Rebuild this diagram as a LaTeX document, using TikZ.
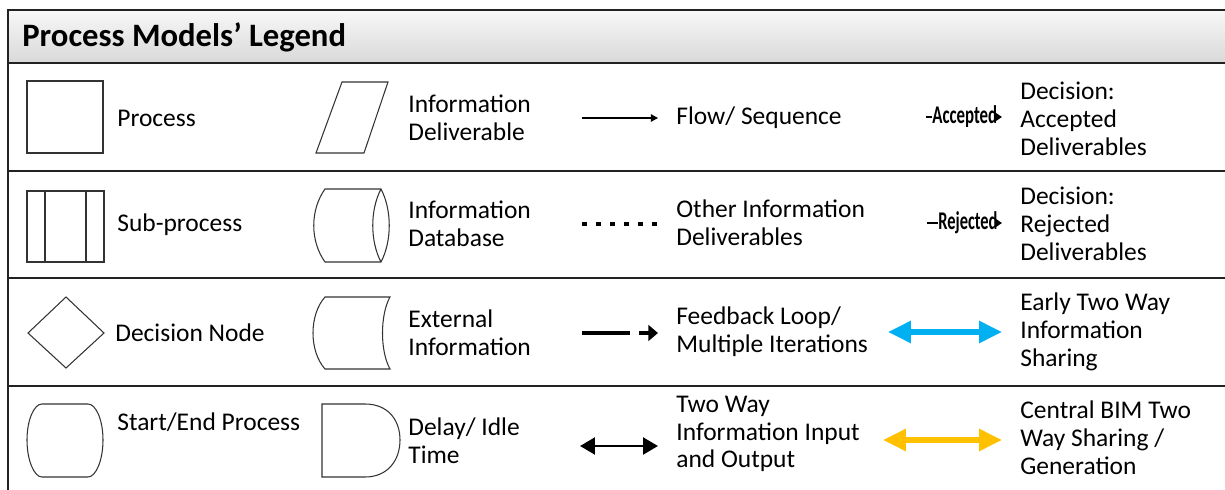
\documentclass[tikz,border=0pt]{standalone}
\usepackage{fontspec}
\setmainfont{Carlito}
\usetikzlibrary{arrows.meta}
\definecolor{frameline}{HTML}{222222}
\definecolor{shapeline}{HTML}{333333}
\definecolor{lblue}{HTML}{00B0F0}
\definecolor{lgold}{HTML}{FFC000}
\begin{document}
\begin{tikzpicture}[x=0.02cm,y=-0.02cm,
  frame/.style={line width=1.1pt,draw=frameline},
  shp/.style={line width=0.6pt,draw=shapeline},
  lbl/.style={anchor=west,align=left,inner sep=0pt,font=\fontsize{14.5}{15.8}\selectfont},
  dlbl/.style={inner sep=0pt,font=\fontsize{14.5}{16}\selectfont\bfseries},
  twoway/.style={{Triangle[length=8.5pt,width=9.5pt]}-{Triangle[length=8.5pt,width=9.5pt]},line width=1.7pt},
  bigtwoway/.style={{Triangle[length=13pt,width=12pt]}-{Triangle[length=13pt,width=12pt]},line width=2.9pt}
]
\useasboundingbox (0,0) rectangle (1225,490);
% header
\shade[top color=black!3,bottom color=black!15] (8,10) rectangle (1225,63);
\node[anchor=west,inner sep=0pt,font=\fontsize{18.6}{20}\selectfont\bfseries] (title) at (22,37) {Process Models’ Legend};
% frame
\draw[frame] (8,490) -- (8,10) -- (1225,10);
\foreach \yy in {63,171,278,386} \draw[frame] (8,\yy) -- (1225,\yy);

% column 1 shapes
\draw[shp] (27,81) rectangle (103,153);
\draw[shp] (27,191) rectangle (104,262);
\draw[shp] (45,191) -- (45,262);
\draw[shp] (86,191) -- (86,262);
\draw[shp] (28,333) -- (66,297) -- (104,333) -- (66,368) -- cycle;
\draw[shp] (42,404) -- (88,404) .. controls (96,404) and (103,420) .. (103,440)
  .. controls (103,460) and (96,477) .. (88,477) -- (42,477)
  .. controls (34,477) and (27,460) .. (27,440) .. controls (27,420) and (34,404) .. (42,404) -- cycle;

\node[lbl] (process) at (117,118) {Process};
\node[lbl] (subprocess) at (117,225) {Sub-process};
\node[lbl] (decision) at (115,333) {Decision Node};
\node[lbl] (startend) at (117,422) {Start/End Process};

% column 2 shapes
\draw[shp] (316,153) -- (342,82) -- (388,82) -- (364,153) -- cycle;
\draw[shp] (325,189) -- (381,189) .. controls (392,210) and (392,241) .. (381,262)
  -- (325,262) .. controls (310,241) and (310,210) .. (325,189) -- cycle;
\draw[shp] (381,189) .. controls (370,210) and (370,241) .. (381,262);
\draw[shp] (325,297) -- (390,297) .. controls (380,315) and (380,351) .. (390,369)
  -- (325,369) .. controls (309,351) and (309,315) .. (325,297) -- cycle;
\draw[shp] (322,404) -- (365,404) .. controls (388,404) and (400,420) .. (400,440)
  .. controls (400,460) and (388,477) .. (365,477) -- (322,477) -- cycle;

\node[lbl] (infodel) at (408,118) {Information\\Deliverable};
\node[lbl] (infodb) at (408,224) {Information\\Database};
\node[lbl] (extinfo) at (408,333) {External\\Information};
\node[lbl] (delay) at (408,441) {Delay/ Idle\\Time};

% column 3 connectors
\coordinate (f1) at (582,118); \coordinate (f2) at (658,118);
\draw[line width=0.7pt,-{Triangle[length=4pt,width=4.2pt]}] (f1) -- (f2);
\coordinate (d1) at (582,224); \coordinate (d2) at (658,224);
\draw[line width=0.09cm,dash pattern=on 0.09cm off 0.192cm] (d1) -- (d2);
\coordinate (k1) at (582,333); \coordinate (k2) at (630,333);
\coordinate (k3) at (639,333); \coordinate (k4) at (658,333);
\draw[line width=2.6pt] (k1) -- (k2);
\draw[line width=2.6pt,-{Triangle[length=5.5pt,width=9pt]}] (k3) -- (k4);
\coordinate (t1) at (580,446); \coordinate (t2) at (658,446);
\draw[twoway] (t1) -- (t2);

\node[lbl] (flow) at (676,118) {Flow/ Sequence};
\node[lbl] (other) at (676,223) {Other Information\\Deliverables};
\node[lbl] (feedback) at (676,332) {Feedback Loop/\\Multiple Iterations};
\node[lbl] (twowayio) at (676,434) {Two Way\\Information Input\\and Output};

% column 4 connectors (decision labels sit on the line)
\coordinate (a1) at (926,117); \coordinate (a2) at (1002,117);
\node[dlbl,anchor=west] (acc) at (932,117) {\scalebox{0.66}[1]{Accepted}};
\draw[line width=1.1pt] (a1) -- (acc.west);
\draw[line width=0.8pt,-{Triangle[length=3.6pt,width=4.6pt]}] ([xshift=-0.8pt]acc.east) -- (a2);
\coordinate (r1) at (927,223); \coordinate (r2) at (1002,223);
\node[dlbl,anchor=west] (rej) at (938,223) {\scalebox{0.645}[1]{Rejected}};
\draw[line width=1.1pt] (r1) -- (rej.west);
\draw[line width=0.8pt,-{Triangle[length=3.6pt,width=4.6pt]}] ([xshift=-0.8pt]rej.east) -- (r2);
\coordinate (b1) at (888,332); \coordinate (b2) at (1002,332);
\draw[bigtwoway,lblue] (b1) -- (b2);
\coordinate (o1) at (883,440); \coordinate (o2) at (1002,440);
\draw[bigtwoway,lgold] (o1) -- (o2);

\node[lbl] (accd) at (1020,119) {Decision:\\Accepted\\Deliverables};
\node[lbl] (rejd) at (1020,224) {Decision:\\Rejected\\Deliverables};
\node[lbl] (early) at (1020,332) {Early Two Way\\Information\\Sharing};
\node[lbl] (central) at (1020,438) {Central BIM Two\\Way Sharing /\\Generation};
\end{tikzpicture}
\end{document}
